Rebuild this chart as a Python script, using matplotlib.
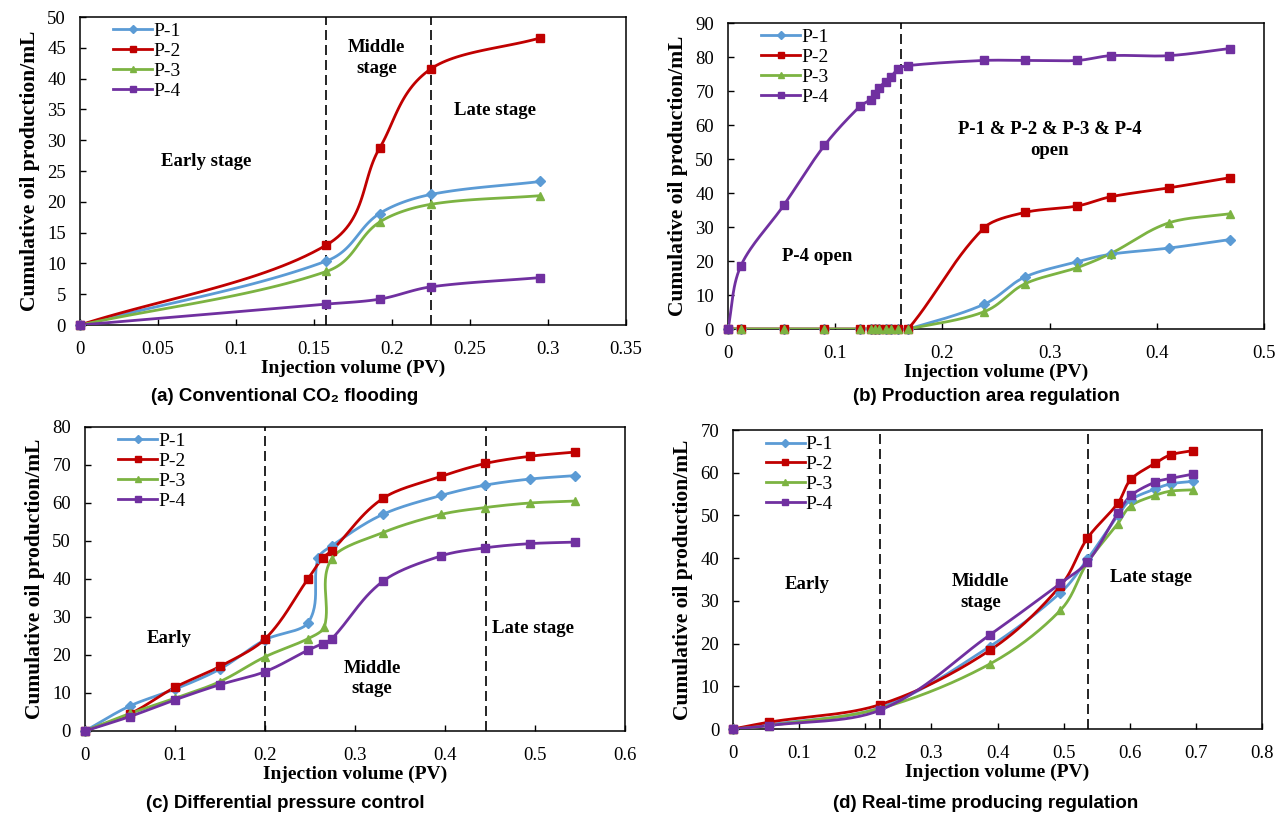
import numpy as np
import matplotlib
matplotlib.use('Agg')
import matplotlib.pyplot as plt

SERIF = ['Liberation Serif', 'DejaVu Serif']
SANS = ['Liberation Sans', 'DejaVu Sans']
plt.rcParams['font.family'] = SERIF

NAMES = ['P-1', 'P-2', 'P-3', 'P-4']
COLORS = ['#5B9BD5', '#C00000', '#7CB342', '#7030A0']
MARKERS = ['D', 's', '^', 's']
MSIZES = [5, 5.5, 5.5, 5.5]

# (a) Conventional CO2 flooding
a_x = [0, 0.158, 0.192, 0.225, 0.295]
a_p1 = [0, 10.4, 18.1, 21.2, 23.3]
a_p2 = [0, 13.0, 28.7, 41.6, 46.6]
a_p3 = [0, 8.7, 16.7, 19.6, 21.0]
a_p4 = [0, 3.4, 4.2, 6.2, 7.7]
a_stages = [0.158, 0.225]

# (b) Production area regulation
b_x = [0, 0.012, 0.052, 0.090, 0.123, 0.133, 0.137, 0.141, 0.147, 0.152, 0.159, 0.168,
       0.239, 0.277, 0.326, 0.357, 0.411, 0.468]
b_p1 = [0, 0, 0, 0, 0, 0, 0, 0, 0, 0, 0, 0, 7.3, 15.3, 19.8, 22.0, 23.8, 26.3]
b_p2 = [0, 0, 0, 0, 0, 0, 0, 0, 0, 0, 0, 0, 29.8, 34.3, 36.2, 38.9, 41.5, 44.5]
b_p3 = [0, 0, 0, 0, 0, 0, 0, 0, 0, 0, 0, 0, 5.1, 13.3, 18.1, 22.2, 31.2, 33.9]
b_p4 = [0, 18.6, 36.4, 54.0, 65.5, 67.5, 69.2, 71.0, 72.8, 74.2, 76.5, 77.5,
        79.0, 79.0, 79.0, 80.4, 80.4, 82.5]
b_stages = [0.1616]

# (c) Differential pressure control
c_x = [0, 0.05, 0.1, 0.15, 0.2, 0.248, 0.264, 0.274, 0.331, 0.396, 0.445, 0.495, 0.545]
c_x1 = [0, 0.05, 0.1, 0.15, 0.2, 0.248, 0.259, 0.274, 0.331, 0.396, 0.445, 0.495, 0.545]
c_x3 = [0, 0.05, 0.1, 0.15, 0.2, 0.248, 0.266, 0.274, 0.331, 0.396, 0.445, 0.495, 0.545]
c_p1 = [0, 6.6, 11.0, 16.3, 24.0, 28.5, 45.5, 48.7, 57.0, 62.0, 64.7, 66.3, 67.2]
c_p2 = [0, 4.5, 11.5, 17.0, 24.2, 40.1, 45.5, 47.4, 61.2, 67.0, 70.4, 72.3, 73.4]
c_p3 = [0, 4.6, 8.6, 13.0, 19.5, 24.3, 27.4, 45.3, 52.2, 57.0, 58.8, 60.0, 60.5]
c_p4 = [0, 3.8, 8.2, 12.2, 15.6, 21.3, 23.0, 24.2, 39.4, 46.1, 48.2, 49.3, 49.7]
c_stages = [0.2, 0.446]

# (d) Real-time producing regulation
d_x = [0, 0.054, 0.222, 0.388, 0.495, 0.536, 0.582, 0.602, 0.638, 0.662, 0.696]
d_p1 = [0, 1.0, 5.0, 19.3, 31.9, 39.8, 50.0, 53.7, 56.2, 57.4, 58.0]
d_p2 = [0, 1.6, 5.7, 18.4, 33.5, 44.7, 52.9, 58.5, 62.2, 64.2, 65.2]
d_p3 = [0, 0.8, 4.8, 15.2, 27.8, 39.0, 48.1, 52.3, 54.7, 55.7, 56.0]
d_p4 = [0, 0.8, 4.4, 22.0, 34.1, 39.1, 50.5, 54.7, 57.8, 58.7, 59.7]
d_stages = [0.222, 0.537]


def smooth(x, y, xr, yr, n=30):
    """Excel-like smoothed line through the points (bezier, tangent from neighbours)"""
    p = np.column_stack([np.asarray(x, float) / xr, np.asarray(y, float) / yr])
    out = [p[:1]]
    t = np.linspace(0, 1, n)[1:, None]
    for i in range(len(p) - 1):
        p0 = p[i - 1] if i > 0 else p[i]
        p1, p2 = p[i], p[i + 1]
        p3 = p[i + 2] if i + 2 < len(p) else p[i + 1]
        d = np.linalg.norm(p2 - p1)
        t1 = p2 - p0
        t2 = p3 - p1
        t1 = t1 / np.linalg.norm(t1) if np.linalg.norm(t1) > 0 else t1
        t2 = t2 / np.linalg.norm(t2) if np.linalg.norm(t2) > 0 else t2
        c1 = p1 + t1 * d * 0.33
        c2 = p2 - t2 * d * 0.33
        b = (1 - t) ** 3 * p1 + 3 * (1 - t) ** 2 * t * c1 + 3 * (1 - t) * t ** 2 * c2 + t ** 3 * p2
        out.append(b)
    out = np.vstack(out)
    return out[:, 0] * xr, out[:, 1] * yr


def panel(ax, xs, ys, stages, xmax, xstep, ymax, ystep, notes):
    for i in range(4):
        sx, sy = smooth(xs[i], ys[i], xmax, ymax)
        ax.plot(sx, sy, color=COLORS[i], lw=2, zorder=3)
        ax.plot(xs[i], ys[i], ls='none', marker=MARKERS[i], ms=MSIZES[i],
                color=COLORS[i], clip_on=False, zorder=4)
        ax.plot([], [], color=COLORS[i], lw=2, marker=MARKERS[i], ms=MSIZES[i] - 1,
                label=NAMES[i])
    for s in stages:
        ax.axvline(s, color='black', lw=1.2, ls=(0, (6, 3)), zorder=2)
    ax.set_xlim(0, xmax)
    ax.set_ylim(0, ymax)
    xt = np.arange(0, xmax + xstep / 2, xstep)
    ax.set_xticks(xt)
    ax.set_xticklabels(['%g' % round(v, 2) for v in xt])
    ax.set_yticks(np.arange(0, ymax + ystep / 2, ystep))
    ax.tick_params(direction='in', length=4, width=1, labelsize=13.5, pad=11.5)
    ax.tick_params(axis='y', pad=10)
    for sp in ax.spines.values():
        sp.set_linewidth(1.1)
    ax.set_xlabel('Injection volume (PV)', fontsize=14, fontweight='bold', labelpad=1)
    ax.set_ylabel('Cumulative oil production/mL', fontsize=15.5, fontweight='bold', labelpad=5)
    ax.legend(loc='upper left', bbox_to_anchor=(0.04, 1.02), frameon=False,
              fontsize=14, handlelength=2.0, handletextpad=0.05, labelspacing=0.12,
              borderaxespad=0.2)
    for (tx, ty, txt) in notes:
        ax.text(tx, ty, txt, ha='center', va='center', fontsize=13.5, fontweight='bold',
                linespacing=1.3)


fig = plt.figure(figsize=(12.86, 8.14), dpi=100)
ax_a = fig.add_axes([0.0622, 0.6007, 0.4246, 0.3784])
ax_b = fig.add_axes([0.5661, 0.5958, 0.4168, 0.3759])
ax_c = fig.add_axes([0.0661, 0.1020, 0.4199, 0.3735])
ax_d = fig.add_axes([0.5700, 0.1044, 0.4114, 0.3673])

panel(ax_a, [a_x] * 4, [a_p1, a_p2, a_p3, a_p4], a_stages, 0.35, 0.05, 50, 5,
      [(0.081, 26.5, 'Early stage'), (0.190, 43.4, 'Middle\nstage'), (0.266, 34.9, 'Late stage')])
panel(ax_b, [b_x] * 4, [b_p1, b_p2, b_p3, b_p4], b_stages, 0.5, 0.1, 90, 10,
      [(0.083, 21.4, 'P-4 open'), (0.300, 55.5, 'P-1 & P-2 & P-3 & P-4\nopen')])
panel(ax_c, [c_x1, c_x, c_x3, c_x], [c_p1, c_p2, c_p3, c_p4], c_stages, 0.6, 0.1, 80, 10,
      [(0.094, 24.4, 'Early'), (0.319, 13.8, 'Middle\nstage'), (0.498, 27.0, 'Late stage')])
panel(ax_d, [d_x] * 4, [d_p1, d_p2, d_p3, d_p4], d_stages, 0.8, 0.1, 70, 10,
      [(0.1115, 33.9, 'Early'), (0.374, 32.1, 'Middle\nstage'), (0.632, 35.4, 'Late stage')])

# captions under each panel
captions = ['(a) Conventional CO\u2082 flooding', '(b) Production area regulation',
            '(c) Differential pressure control', '(d) Real-time producing regulation']
cap_pos = [(0.2216, 0.5135), (0.7667, 0.5135), (0.2216, 0.0135), (0.7667, 0.0135)]
for txt, (cx, cy) in zip(captions, cap_pos):
    fig.text(cx, cy, txt, ha='center', va='center', fontsize=13.5, fontweight='bold',
             family=SANS)

fig.savefig('out.png', dpi=100)
